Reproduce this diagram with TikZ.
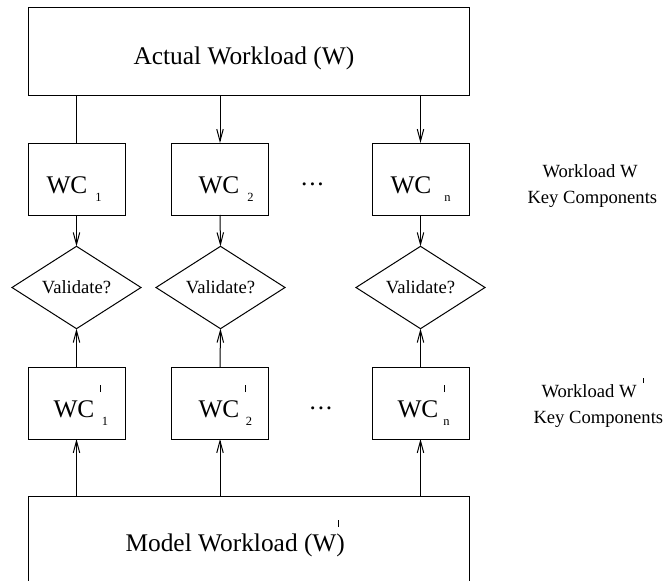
\documentclass[tikz,border=0pt]{standalone}
\usepackage{fontspec}
\setmainfont{Liberation Serif}
\usetikzlibrary{shapes.geometric,arrows.meta}

% type sizes
\newcommand\bigtxt{\fontsize{25.4}{30}\selectfont}
\newcommand\lbltxt{\fontsize{18.6}{22}\selectfont}
\newcommand\subtxt{\fontsize{12.5}{14}\selectfont}
% lowered index and raised prime stroke
\newcommand\idx[1]{\raisebox{-8pt}{\subtxt #1}}
\newcommand\tick[2]{\rlap{\rule[#1]{0.8pt}{#2}}}

\begin{document}
\begin{tikzpicture}[x=1pt,y=-1pt,line width=1pt,
  box/.style={draw,rectangle,inner sep=0pt,outer sep=0pt},
  comp/.style={box,minimum width=97pt,minimum height=72pt},
  check/.style={draw,diamond,inner sep=0pt,outer sep=0pt,
    minimum width=129pt,minimum height=63pt,font=\lbltxt},
  arr/.style={-{Straight Barb[length=12pt,width=6.5pt]}},
  big/.style={font=\bigtxt,inner sep=0pt,anchor=base west},
  lbl/.style={font=\lbltxt,inner sep=0pt,anchor=base west},
  dots/.style={font=\bigtxt,inner sep=0pt,anchor=base}]

\clip (0,0) rectangle (667,581);
\fill[white] (0,0) rectangle (667,581);

% workload boxes
\node[box,minimum width=441pt,minimum height=88pt] (actual) at (248.5,51) {};
\node[big] (actualtext) at (133,64) {Actual Workload (W)};
\node[box,minimum width=441pt,minimum height=130pt,anchor=north] (model) at (248.5,496) {};
\node[big] (modeltext) at (125,551) {Model Workload (W\kern2pt\tick{24pt}{7pt}\kern-2pt)};

% key components of W
\node[comp] (wc1) at (76.5,179) {};
\node[comp] (wc2) at (220,179) {};
\node[comp] (wcn) at (420.5,179) {};
\node[big] (wc1t) at (46,193) {WC\kern8pt\idx{1}};
\node[big] (wc2t) at (198,193) {WC\kern8pt\idx{2}};
\node[big] (wcnt) at (390,193) {WC\kern13pt\idx{n}};
\node[dots] (dotsa) at (312.5,185) {.\kern1.8pt.\kern1.8pt.};

% validation
\node[check] (v1) at (76.5,287.5) {Validate?};
\node[check] (v2) at (220.5,287.5) {Validate?};
\node[check] (vn) at (420.5,287.5) {Validate?};

% key components of W'
\node[comp] (wcp1) at (76.5,403) {};
\node[comp] (wcp2) at (220,403) {};
\node[comp] (wcpn) at (420.5,403) {};
\node[big] (wcp1t) at (53,417) {WC\kern6pt\tick{25pt}{7pt}\kern1.5pt\idx{1}};
\node[big] (wcp2t) at (198,417) {WC\kern6pt\tick{25pt}{7pt}\kern0.5pt\idx{2}};
\node[big] (wcpnt) at (397,417) {WC\kern6pt\tick{25pt}{7pt}\kern-1pt\idx{n}};
\node[dots] (dotsb) at (321,409) {.\kern1.8pt.\kern1.8pt.};

% side captions
\node[lbl] (capa1) at (542,177) {Workload W};
\node[lbl] (capa2) at (527,203) {Key Components};
\node[lbl] (capb1) at (541,397) {Workload W\kern6pt\tick{14pt}{5pt}};
\node[lbl] (capb2) at (533,423) {Key Components};

% connectors
\draw (wc1.north |- actual.south) -- (wc1.north);
\draw[arr] (wc2.north |- actual.south) -- (wc2.north);
\draw[arr] (wcn.north |- actual.south) -- (wcn.north);
\draw[arr] (wc1.south) -- (v1.north);
\draw[arr] (wc2.south) -- (v2.north);
\draw[arr] (wcn.south) -- (vn.north);
\draw[arr] (wcp1.north) -- (v1.south);
\draw[arr] (wcp2.north) -- (v2.south);
\draw[arr] (wcpn.north) -- (vn.south);
\draw[arr] (wcp1.south |- model.north) -- (wcp1.south);
\draw[arr] (wcp2.south |- model.north) -- (wcp2.south);
\draw[arr] (wcpn.south |- model.north) -- (wcpn.south);
\end{tikzpicture}
\end{document}
